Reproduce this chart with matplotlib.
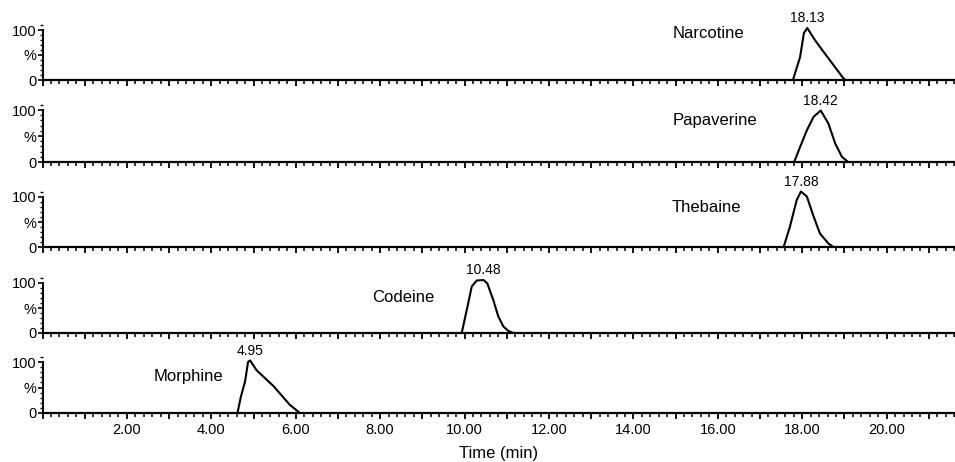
import matplotlib
matplotlib.use("Agg")
import matplotlib.pyplot as plt
from matplotlib.ticker import MultipleLocator, FixedLocator, FuncFormatter

plt.rcParams['font.family'] = ['Liberation Sans', 'DejaVu Sans']

# ---- data ----
compounds = ["Narcotine", "Papaverine", "Thebaine", "Codeine", "Morphine"]
retention_labels = ["18.13", "18.42", "17.88", "10.48", "4.95"]

narcotine_t = [17.78, 17.95, 18.04, 18.12, 18.30, 18.50, 18.74, 18.97, 19.03]
narcotine_y = [0, 46, 94, 104, 80, 57, 30, 4, 0]

papaverine_t = [17.82, 17.95, 18.11, 18.27, 18.44, 18.62, 18.78, 18.94, 19.06]
papaverine_y = [2, 29, 61, 87, 99, 74, 36, 10, 2]

thebaine_t = [17.56, 17.71, 17.87, 17.97, 18.11, 18.27, 18.42, 18.62, 18.74]
thebaine_y = [0, 41, 94, 111, 101, 61, 27, 7, 0]

codeine_t = [9.94, 10.07, 10.17, 10.29, 10.45, 10.54, 10.68, 10.80, 10.92, 11.04, 11.16]
codeine_y = [3, 53, 93, 105, 106, 99, 66, 33, 13, 4, 0]

morphine_t = [4.62, 4.70, 4.80, 4.87, 4.92, 5.07, 5.47, 5.86, 6.10]
morphine_y = [0, 32, 62, 100, 103, 84, 53, 16, 0]

traces_t = [narcotine_t, papaverine_t, thebaine_t, codeine_t, morphine_t]
traces_y = [narcotine_y, papaverine_y, thebaine_y, codeine_y, morphine_y]

# compound name label anchor (time, %)
name_pos = [(14.94, 92), (14.94, 79), (14.90, 78), (7.80, 70), (2.64, 72)]

x_min, x_max = 0.0, 21.62
W, H = 955, 462

# panel pixel geometry: (y pixel of 0, y pixel of 100)
panels_px = [(80, 30), (162, 110), (247, 197), (333, 283), (413, 362)]
ytop = 118

fig = plt.figure(figsize=(W / 100, H / 100), dpi=100)
left_px, right_px = 42.5, 955

for i, (name, lab) in enumerate(zip(compounds, retention_labels)):
    y0, y100 = panels_px[i]
    scale = (y0 - y100) / 100.0
    top_px = y0 - ytop * scale
    ax = fig.add_axes([left_px / W, 1 - y0 / H, (right_px - left_px) / W, (y0 - top_px) / H])
    ax.set_xlim(x_min, x_max)
    ax.set_ylim(0, ytop)
    ax.patch.set_alpha(0)
    for s in ['top', 'right']:
        ax.spines[s].set_visible(False)
    ax.spines['left'].set_bounds(0, 100)
    ax.spines['left'].set_linewidth(1.4)
    ax.spines['bottom'].set_linewidth(1.6)

    ax.plot(traces_t[i], traces_y[i], color='black', lw=1.5, solid_joinstyle='round')

    # x ticks
    ax.xaxis.set_major_locator(MultipleLocator(1))
    ax.xaxis.set_minor_locator(MultipleLocator(0.2))
    ax.tick_params(axis='x', which='major', direction='out', length=4.5, width=1.3)
    ax.tick_params(axis='x', which='minor', direction='out', length=2.8, width=1.1)
    if i == len(compounds) - 1:
        ax.xaxis.set_major_formatter(FuncFormatter(
            lambda v, p: ("%.2f" % v) if (round(v) % 2 == 0 and v > 0.5) else ""))
        ax.tick_params(axis='x', which='major', labelsize=10.5, pad=3)
        ax.set_xlabel("Time (min)", fontsize=12, labelpad=6)
    else:
        ax.tick_params(axis='x', labelbottom=False)

    # y ticks
    ax.yaxis.set_major_locator(FixedLocator([0, 50, 100]))
    ax.set_yticklabels(["0", "%", "100"])
    ax.yaxis.set_minor_locator(MultipleLocator(10))
    ax.tick_params(axis='y', which='major', direction='out', length=3.5, width=1.2,
                   labelsize=10.5, pad=1)
    ax.tick_params(axis='y', which='minor', direction='out', length=2, width=1.0)

    # compound name
    nx, ny = name_pos[i]
    ax.text(nx, ny, name, fontsize=12, ha='left', va='center')

    # retention time label at apex
    k = max(range(len(traces_y[i])), key=lambda j: traces_y[i][j])
    ax.annotate(lab, xy=(traces_t[i][k], traces_y[i][k]), xytext=(0, 2),
                textcoords='offset points', ha='center', va='bottom',
                fontsize=10, annotation_clip=False)

fig.savefig("out.png", dpi=100, facecolor='white')
